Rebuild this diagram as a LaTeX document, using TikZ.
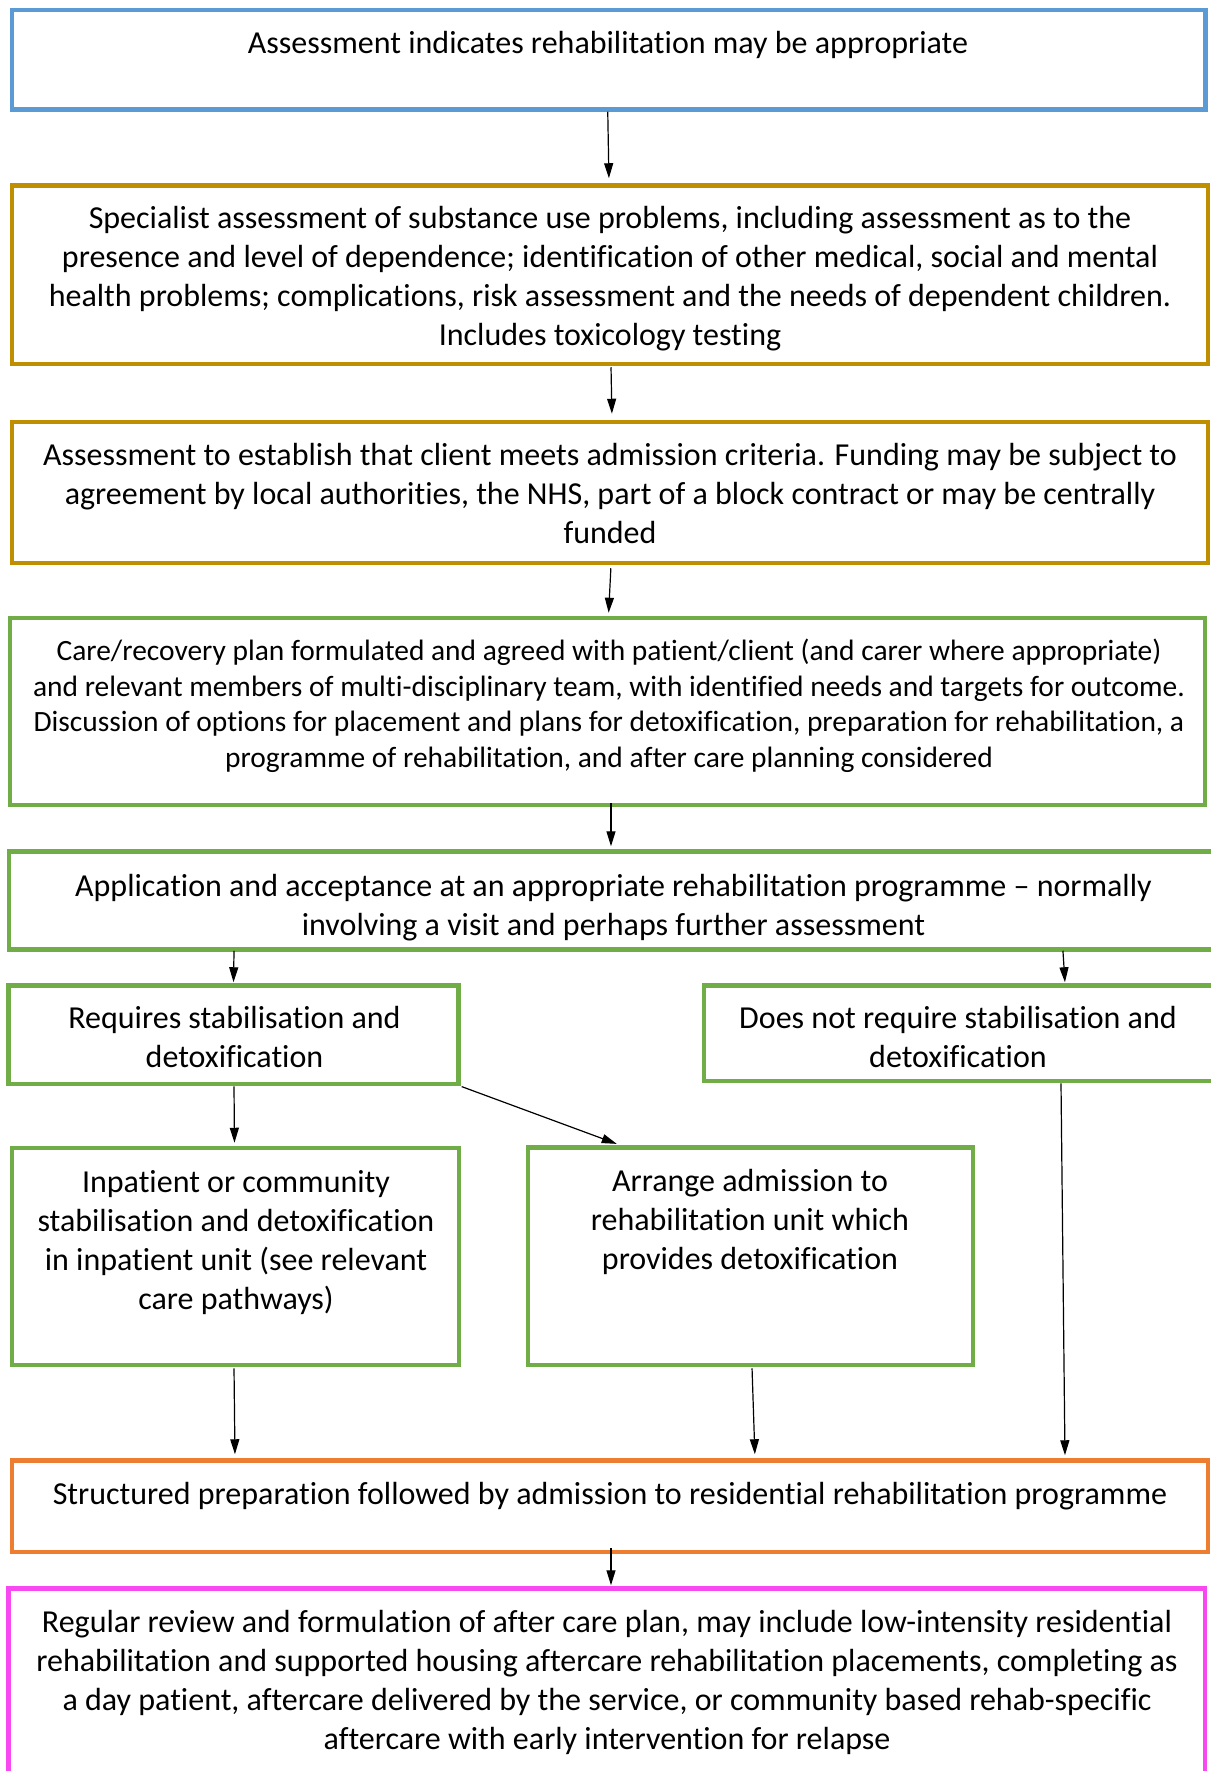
\documentclass[tikz,border=0pt]{standalone}
\usepackage{fontspec}
\setmainfont{Carlito}[Ligatures={NoCommon}]
\usetikzlibrary{arrows.meta}
\definecolor{cblue}{HTML}{5B9BD5}
\definecolor{cgold}{HTML}{BF8F00}
\definecolor{cgreen}{HTML}{70AD47}
\definecolor{corange}{HTML}{ED7D31}
\definecolor{cmag}{HTML}{F848F2}
\tikzset{
  box/.style={draw=#1, line width=4.5pt, rectangle, inner sep=0pt},
  bigtxt/.style={align=center, inner sep=0pt, anchor=north, font=\fontsize{32}{39}\selectfont},
  smalltxt/.style={align=center, inner sep=0pt, anchor=north, font=\fontsize{29.45}{35.4}\selectfont},
  arr/.style={line width=1.2pt, -{Triangle[length=15pt,width=9pt]}},
}
\begin{document}
\begin{tikzpicture}[x=1pt,y=-1pt]
\useasboundingbox (0,0) rectangle (1210,1771);
% boxes
\node[box=cblue,  minimum width=1193.5pt, minimum height=99.5pt]  (b1)  at (608.75,59.75) {};
\node[box=cgold,  minimum width=1196pt,   minimum height=178.5pt] (b2)  at (610,274.75) {};
\node[box=cgold,  minimum width=1196pt,   minimum height=141pt]   (b3)  at (610,492.5) {};
\node[box=cgreen, minimum width=1195pt,   minimum height=187pt]   (b4)  at (607.5,711.5) {};
\node[box=cgreen, minimum width=1209pt,   minimum height=98pt]    (b5)  at (613.5,900.5) {};
\node[box=cgreen, minimum width=450pt,    minimum height=98.5pt]  (b6)  at (233.5,1034.75) {};
\node[box=cgreen, minimum width=511pt,    minimum height=95.5pt]  (b7)  at (959.5,1033.25) {};
\node[box=cgreen, minimum width=447pt,    minimum height=217pt]   (b8)  at (235.5,1256.5) {};
\node[box=cgreen, minimum width=445pt,    minimum height=217.5pt] (b9)  at (750.5,1256.25) {};
\node[box=corange,minimum width=1196pt,   minimum height=91.5pt]  (b10) at (610,1506.25) {};
\node[box=cmag,   minimum width=1196.5pt, minimum height=211.5pt] (b11) at (606.75,1694.25) {};
% texts
\node[bigtxt] (t1) at (608,26) {\strut Assessment indicates rehabilitation may be appropriate};
\node[bigtxt] (t2) at (610,201) {\strut Specialist assessment of substance use problems, including assessment as to the\\
presence and level of dependence; identification of other medical, social and mental\\
health problems; complications, risk assessment and the needs of dependent children.\\
Includes toxicology testing};
\node[bigtxt] (t3) at (610,438) {\strut Assessment to establish that client meets admission criteria. Funding may be subject to\\
agreement by local authorities, the NHS, part of a block contract or may be centrally\\
funded};
\node[smalltxt] (t4) at (609,636) {\strut Care/recovery plan formulated and agreed with patient/client (and carer where appropriate)\\
and relevant members of multi-disciplinary team, with identified needs and targets for outcome.\\
Discussion of options for placement and plans for detoxification, preparation for rehabilitation, a\\
programme of rehabilitation, and after care planning considered};
\node[bigtxt] (t5) at (613.5,869) {\strut Application and acceptance at an appropriate rehabilitation programme -- normally\\
involving a visit and perhaps further assessment};
\node[bigtxt] (t6) at (234.5,1001) {\strut Requires stabilisation and\\ detoxification};
\node[bigtxt] (t7) at (958,1001) {\strut Does not require stabilisation and\\ detoxification};
\node[bigtxt] (t8) at (236,1165) {\strut Inpatient or community\\ stabilisation and detoxification\\ in inpatient unit (see relevant\\ care pathways)};
\node[bigtxt] (t9) at (750,1164) {\strut Arrange admission to\\ rehabilitation unit which\\ provides detoxification};
\node[bigtxt] (t10) at (610,1477) {\strut Structured preparation followed by admission to residential rehabilitation programme};
\node[bigtxt] (t11) at (607,1605) {\strut Regular review and formulation of after care plan, may include low-intensity residential\\
rehabilitation and supported housing aftercare rehabilitation placements, completing as\\
a day patient, aftercare delivered by the service, or community based rehab-specific\\
aftercare with early intervention for relapse};
% connectors
\draw[arr, shorten >=5pt] ([xshift=-1pt]b1.south) -- ([xshift=-1pt]b2.north);
\draw[arr, shorten >=6pt, shorten <=1pt] ([xshift=1pt]b2.south) -- ([xshift=2pt]b3.north);
\draw[arr, shorten >=3pt, shorten <=3pt] ([xshift=1pt]b3.south) -- ([xshift=1pt]b4.north);
\draw[arr, shorten >=3pt, shorten <=-4pt] ([xshift=3.5pt]b4.south) -- ([xshift=-2.5pt]b5.north);
\draw[arr, shorten >=1pt, shorten <=-1pt] ([xshift=0.5pt]b6.north |- b5.south) -- (b6.north);
\draw[arr, shorten >=1pt, shorten <=-1pt] ([xshift=103.5pt]b7.north |- b5.south) -- ([xshift=105.5pt]b7.north);
\draw[arr, shorten >=3pt, shorten <=0pt] ([xshift=0.5pt]b6.south) -- ([xshift=-1pt]b8.north);
\draw[arr, shorten >=4pt, shorten <=1pt] (b6.south east) -- ([xshift=-130pt]b9.north);
\draw[arr, shorten >=3pt, shorten <=0pt] ([xshift=101.5pt]b7.south) -- ([xshift=455pt]b10.north);
\draw[arr, shorten >=4pt, shorten <=1pt] ([xshift=-1.5pt]b8.south) -- ([xshift=-375pt]b10.north);
\draw[arr, shorten >=4pt, shorten <=1pt] ([xshift=1.5pt]b9.south) -- ([xshift=145pt]b10.north);
\draw[arr, shorten >=1pt, shorten <=-6pt] ([xshift=1pt]b10.south) -- ([xshift=4.25pt]b11.north);
\end{tikzpicture}
\end{document}
